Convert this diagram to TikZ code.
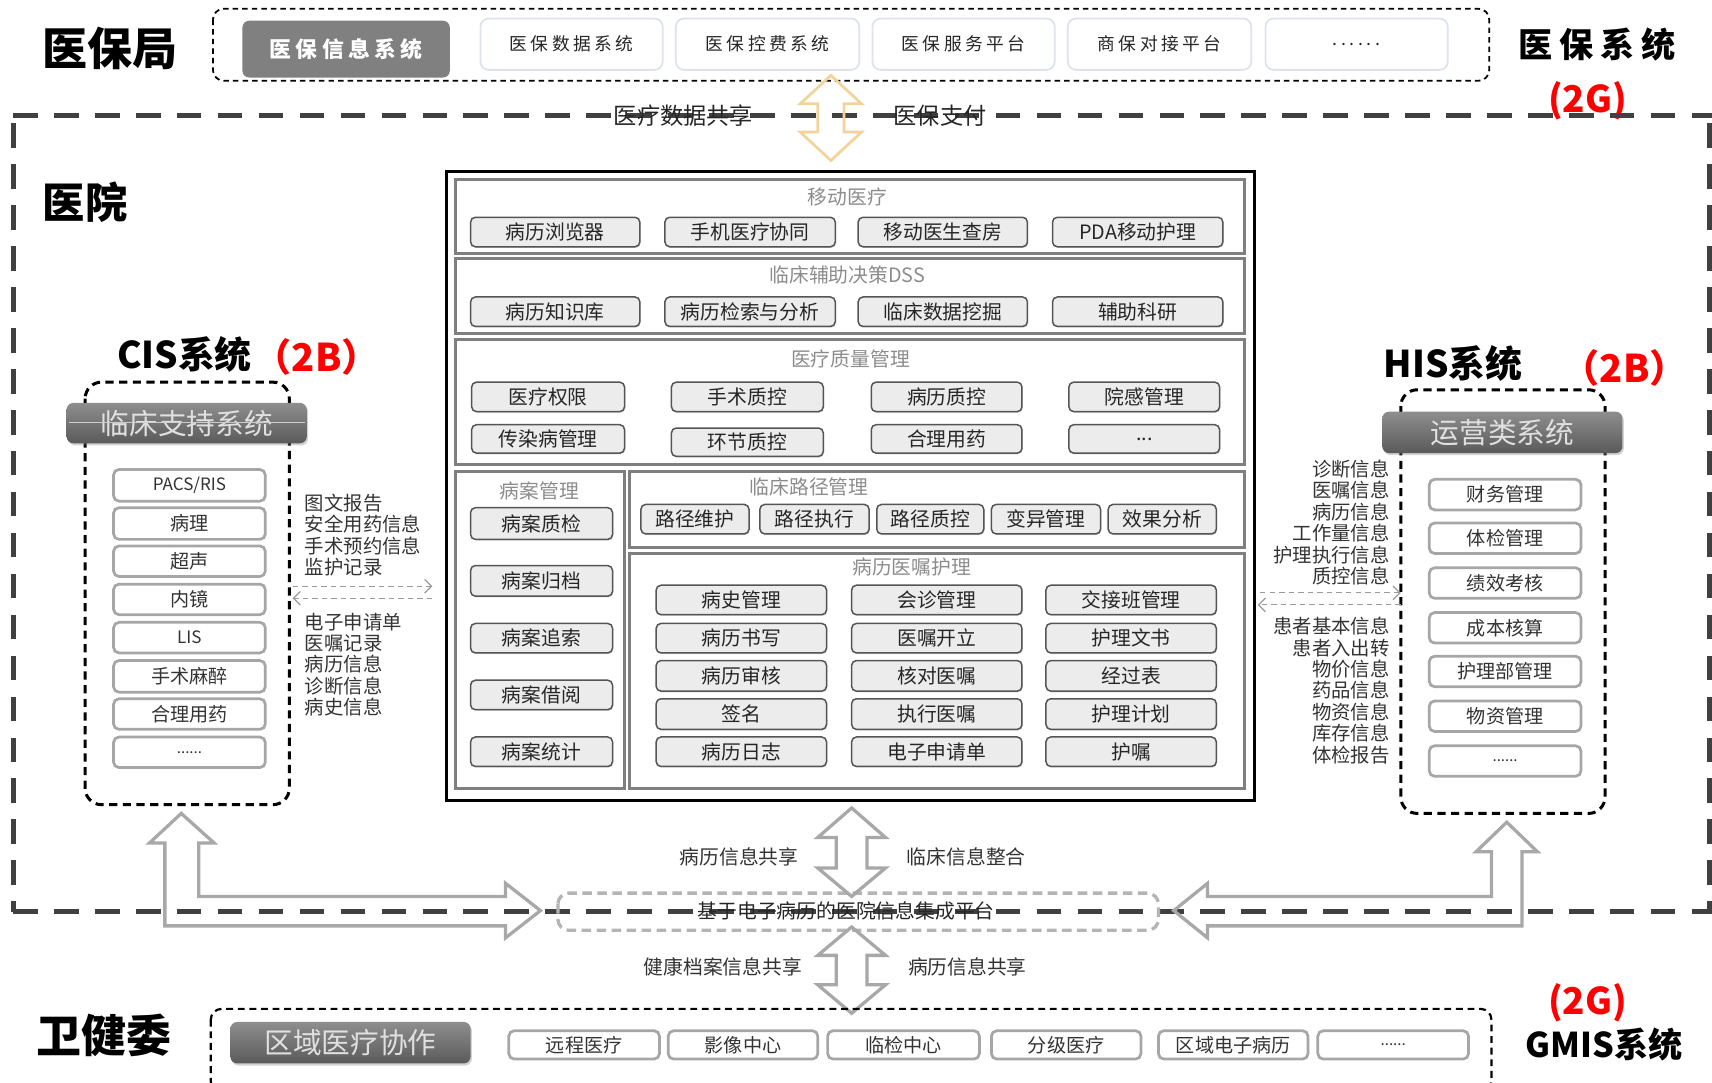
\documentclass[tikz,border=0pt]{standalone}
\usepackage{fontspec}
\setmainfont{Noto Sans CJK SC}
\newfontfamily\spacedfont{Noto Sans CJK SC}[LetterSpace=20]
\usetikzlibrary{arrows.meta,shadows}
\definecolor{hosp}{HTML}{404040}
\definecolor{btnedge}{HTML}{555555}
\definecolor{btnfill}{HTML}{ECECEC}
\definecolor{sectgray}{HTML}{7F7F7F}
\definecolor{titlegray}{HTML}{8C8C8C}
\definecolor{wedge}{HTML}{A6A6A6}
\definecolor{topedge}{HTML}{DDE2EE}
\definecolor{hdrtop}{HTML}{8E8E8E}
\definecolor{hdrbot}{HTML}{5A5A5A}
\definecolor{yellowarr}{HTML}{F2D49A}
\definecolor{blockarr}{HTML}{A8A8A8}
\definecolor{platgray}{HTML}{B4B4B4}
\definecolor{darrgray}{HTML}{9A9A9A}
\newcommand\bx[7]{\node[#1, minimum width={(#5-#3)*0.8pt}, minimum height={(#6-#4)*0.8pt}] (#2) at ({(#3+#5)/2},{(#4+#6)/2}) {#7};}
\begin{document}
\begin{tikzpicture}[x=0.8pt,y=-0.8pt,
  btn/.style={draw=btnedge, fill=btnfill, rounded corners=3.5pt, line width=1.1pt, inner sep=0pt,
    font=\fontsize{14.5}{16}\selectfont, text=black!85,
    drop shadow={shadow xshift=0.6pt, shadow yshift=-0.9pt, opacity=0.3}},
  wbox/.style={draw=wedge, fill=white, rounded corners=4pt, line width=2pt, inner sep=0pt,
    font=\fontsize{14}{16}\selectfont, text=black!80},
  topbox/.style={draw=topedge, fill=white, rounded corners=6pt, line width=1.3pt, inner sep=0pt,
    font=\spacedfont\fontsize{13}{15}\selectfont, text=black!85},
  sect/.style={draw=sectgray, line width=2.2pt},
  stitle/.style={font=\fontsize{14.5}{16}\selectfont, text=titlegray, inner sep=0pt},
  hdr/.style={rounded corners=5pt, top color=hdrtop, bottom color=hdrbot, text=white!88!black,
    font=\fontsize{21}{24}\selectfont, inner sep=0pt,
    drop shadow={shadow xshift=1pt, shadow yshift=-1.5pt, opacity=0.35}},
  bigtitle/.style={font=\bfseries\fontsize{33}{36}\selectfont, inner sep=0pt},
  systitle/.style={font=\bfseries\fontsize{27}{30}\selectfont, inner sep=0pt},
  redtag/.style={font=\bfseries\fontsize{28}{30}\selectfont, text=red, inner sep=0pt},
  gtag/.style={font=\bfseries\fontsize{27}{30}\selectfont, text=red, inner sep=0pt},
  lbl/.style={font=\fontsize{14.5}{16}\selectfont, text=black!80, inner sep=0pt},
  sidelbl/.style={font=\fontsize{14.2}{15.7}\selectfont, text=black!80, inner sep=0pt},
  hospline/.style={draw=hosp, line width=3.6pt, dash pattern=on 18pt off 12pt},
  darr/.style={draw=darrgray, line width=0.9pt, dash pattern=on 4pt off 3pt, -{Straight Barb[length=5pt,width=10pt]}},
  blk/.style={draw=blockarr, line width=2.4pt, line join=miter},
]
\useasboundingbox (0,0) rectangle (1568,991);

% ---------------- 医保局 ----------------
\node[bigtitle] (ybj) at (101,44) {医保局};
\draw[black, line width=1.3pt, dash pattern=on 4pt off 3pt, rounded corners=8pt] (195,8) rectangle (1364,74);
\node[rounded corners=5pt, fill=black!50, text=white, inner sep=0pt, minimum width={190*0.8pt}, minimum height={52*0.8pt},
  font=\spacedfont\bfseries\fontsize{16}{18}\selectfont] (yb1) at (317,45) {医保信息系统};
\bx{topbox}{yb2}{440}{17}{607}{64}{医保数据系统}
\bx{topbox}{yb3}{619}{17}{787}{64}{医保控费系统}
\bx{topbox}{yb4}{799}{17}{966}{64}{医保服务平台}
\bx{topbox}{yb5}{978}{17}{1146}{64}{商保对接平台}
\bx{topbox}{yb6}{1159}{17}{1326}{64}{......}
\node[font=\spacedfont\bfseries\fontsize{25}{28}\selectfont, inner sep=0pt] (ybxt) at (1463,41) {医保系统};
\node[gtag] (yb2g) at (1454,92) {(2G)};

% ---------------- hospital boundary ----------------
\draw[hospline] (12,106) -- (1568,106);
\draw[hospline] (12,113) -- (12,835);
\draw[hospline] (12,835) -- (1568,835);
\draw[hospline] (1566,113) -- (1566,835);
\node[bigtitle, font=\bfseries\fontsize{31}{34}\selectfont] (yy) at (78,185) {医院};

% yellow double arrow
\draw[draw=yellowarr, line width=2pt, line join=miter]
  (761,69) -- (789,95) -- (773,95) -- (773,121) -- (789,121) -- (761,147) -- (733,121) -- (749,121) -- (749,95) -- (733,95) -- cycle;
\node[font=\fontsize{17}{19}\selectfont, text=black!85, inner sep=0pt] (lshare) at (626,106) {医疗数据共享};
\node[font=\fontsize{17}{19}\selectfont, text=black!85, inner sep=0pt] (lpay) at (861,106) {医保支付};

% ---------------- central box ----------------
\draw[black, line width=2.6pt] (409,157) rectangle (1149,733);
\draw[sect] (417,164) rectangle (1140,232);
\draw[sect] (417,237) rectangle (1140,305);
\draw[sect] (417,311) rectangle (1140,425);
\draw[sect] (417,432) rectangle (572,722);
\draw[sect] (577,432) rectangle (1140,501);
\draw[sect] (577,507) rectangle (1140,722);

\node[stitle] (t1) at (776,180) {移动医疗};
\node[stitle] (t2) at (776,252) {临床辅助决策DSS};
\node[stitle] (t3) at (779,329) {医疗质量管理};
\node[stitle] (t4) at (494,450) {病案管理};
\node[stitle] (t5) at (741,446) {临床路径管理};
\node[stitle] (t6) at (835,519) {病历医嘱护理};

\bx{btn}{m1}{431}{199}{586}{226}{病历浏览器}
\bx{btn}{m2}{609}{199}{765}{226}{手机医疗协同}
\bx{btn}{m3}{786}{199}{941}{226}{移动医生查房}
\bx{btn}{m4}{964}{199}{1120}{226}{PDA移动护理}

\bx{btn}{d1}{431}{272}{586}{299}{病历知识库}
\bx{btn}{d2}{609}{272}{765}{299}{病历检索与分析}
\bx{btn}{d3}{786}{272}{941}{299}{临床数据挖掘}
\bx{btn}{d4}{964}{272}{1120}{299}{辅助科研}

\bx{btn}{q1}{432}{350}{572}{377}{医疗权限}
\bx{btn}{q2}{615}{350}{754}{377}{手术质控}
\bx{btn}{q3}{798}{350}{936}{377}{病历质控}
\bx{btn}{q4}{979}{350}{1117}{377}{院感管理}
\bx{btn}{q5}{432}{389}{572}{415}{传染病管理}
\bx{btn}{q6}{615}{392}{754}{418}{环节质控}
\bx{btn}{q7}{798}{389}{936}{415}{合理用药}
\bx{btn}{q8}{979}{389}{1117}{415}{...}

\bx{btn}{b1}{431}{465}{561}{494}{病案质检}
\bx{btn}{b2}{431}{518}{561}{546}{病案归档}
\bx{btn}{b3}{431}{571}{561}{598}{病案追索}
\bx{btn}{b4}{431}{623}{561}{650}{病案借阅}
\bx{btn}{b5}{431}{675}{561}{702}{病案统计}

\bx{btn}{p1}{587}{462}{686}{489}{路径维护}
\bx{btn}{p2}{696}{462}{796}{489}{路径执行}
\bx{btn}{p3}{803}{462}{901}{489}{路径质控}
\bx{btn}{p4}{908}{462}{1008}{489}{变异管理}
\bx{btn}{p5}{1015}{462}{1114}{489}{效果分析}

\bx{btn}{e11}{601}{536}{757}{563}{病史管理}
\bx{btn}{e12}{601}{571}{757}{598}{病历书写}
\bx{btn}{e13}{601}{605}{757}{633}{病历审核}
\bx{btn}{e14}{601}{640}{757}{668}{签名}
\bx{btn}{e15}{601}{675}{757}{702}{病历日志}
\bx{btn}{e21}{780}{536}{936}{563}{会诊管理}
\bx{btn}{e22}{780}{571}{936}{598}{医嘱开立}
\bx{btn}{e23}{780}{605}{936}{633}{核对医嘱}
\bx{btn}{e24}{780}{640}{936}{668}{执行医嘱}
\bx{btn}{e25}{780}{675}{936}{702}{电子申请单}
\bx{btn}{e31}{958}{536}{1114}{563}{交接班管理}
\bx{btn}{e32}{958}{571}{1114}{598}{护理文书}
\bx{btn}{e33}{958}{605}{1114}{633}{经过表}
\bx{btn}{e34}{958}{640}{1114}{668}{护理计划}
\bx{btn}{e35}{958}{675}{1114}{702}{护嘱}

% ---------------- CIS ----------------
\node[systitle, anchor=west] (cist) at (107,325) {CIS系统};
\node[redtag, anchor=west] (cis2b) at (232,327) {（2B）};
\draw[black, line width=2.2pt, dash pattern=on 6pt off 4pt, rounded corners=12pt] (78,350) rectangle (265,737);
\bx{hdr}{cish}{61}{369}{281}{406}{临床支持系统}
\draw[white!80!black, line width=1pt] (63,387) -- (279,387);
\bx{wbox}{c1}{104}{430}{243}{459}{\fontsize{12.5}{14}\selectfont PACS/RIS}
\bx{wbox}{c2}{104}{465}{243}{494}{病理}
\bx{wbox}{c3}{104}{500}{243}{528}{超声}
\bx{wbox}{c4}{104}{535}{243}{563}{内镜}
\bx{wbox}{c5}{104}{570}{243}{598}{\fontsize{12.5}{14}\selectfont LIS}
\bx{wbox}{c6}{104}{605}{243}{634}{手术麻醉}
\bx{wbox}{c7}{104}{640}{243}{668}{合理用药}
\bx{wbox}{c8}{104}{675}{243}{703}{\fontsize{11}{12}\selectfont ......}

\node[sidelbl, align=left, anchor=north west] (cisl1) at (279,452) {图文报告\\安全用药信息\\手术预约信息\\监护记录};
\node[sidelbl, align=left, anchor=north west] (cisl2) at (279,561) {电子申请单\\医嘱记录\\病历信息\\诊断信息\\病史信息};
\coordinate (ca1) at (268,537);
\coordinate (ca2) at (396,537);
\coordinate (ca3) at (396,548);
\coordinate (ca4) at (268,548);
\draw[darr] (ca1) -- (ca2);
\draw[darr] (ca3) -- (ca4);

% ---------------- HIS ----------------
\node[systitle, anchor=west] (hist) at (1267,333) {HIS系统};
\node[redtag, anchor=west] (his2b) at (1430,337) {（2B）};
\draw[black, line width=2.2pt, dash pattern=on 6pt off 4pt, rounded corners=12pt] (1283,357) rectangle (1470,745);
\bx{hdr}{hish}{1266}{377}{1486}{415}{运营类系统}
\bx{wbox}{h1}{1309}{439}{1448}{467}{财务管理}
\bx{wbox}{h2}{1309}{479}{1448}{507}{体检管理}
\bx{wbox}{h3}{1309}{520}{1448}{548}{绩效考核}
\bx{wbox}{h4}{1309}{561}{1448}{589}{成本核算}
\bx{wbox}{h5}{1309}{601}{1448}{629}{护理部管理}
\bx{wbox}{h6}{1309}{642}{1448}{670}{物资管理}
\bx{wbox}{h7}{1309}{683}{1448}{711}{\fontsize{11}{12}\selectfont ......}

\node[sidelbl, align=right, anchor=north east] (hisl1) at (1273,421) {诊断信息\\医嘱信息\\病历信息\\工作量信息\\护理执行信息\\质控信息};
\node[sidelbl, align=right, anchor=north east] (hisl2) at (1273,565) {患者基本信息\\患者入出转\\物价信息\\药品信息\\物资信息\\库存信息\\体检报告};
\coordinate (ha1) at (1154,543);
\coordinate (ha2) at (1283,543);
\coordinate (ha3) at (1283,554);
\coordinate (ha4) at (1152,554);
\draw[darr] (ha1) -- (ha2);
\draw[darr] (ha3) -- (ha4);

% ---------------- platform and arrows ----------------
\draw[platgray, line width=2.4pt, dash pattern=on 7pt off 4pt, rounded corners=8pt] (511,818) rectangle (1061,852);
\node[lbl, text=black!85] (plat) at (775,834) {基于电子病历的医院信息集成平台};

\draw[blk] (780,740) -- (811,767) -- (794,767) -- (794,795) -- (811,795) -- (780,821) -- (749,795) -- (766,795) -- (766,767) -- (749,767) -- cycle;
\draw[blk] (780,849) -- (811,875) -- (794,875) -- (794,902) -- (811,902) -- (780,928) -- (749,902) -- (766,902) -- (766,875) -- (749,875) -- cycle;
\node[lbl] (la1) at (677,785) {病历信息共享};
\node[lbl] (la2) at (885,785) {临床信息整合};
\node[lbl] (la3) at (662,886) {健康档案信息共享};
\node[lbl] (la4) at (886,886) {病历信息共享};

\draw[blk] (166,745) -- (196,772) -- (182,772) -- (182,821) -- (463,821) -- (463,809) -- (495,834) -- (463,859) -- (463,848) -- (151,848) -- (151,772) -- (137,772) -- cycle;
\draw[blk] (1380,753) -- (1408,780) -- (1394,780) -- (1394,848) -- (1106,848) -- (1106,859) -- (1075,834) -- (1106,809) -- (1106,821) -- (1366,821) -- (1366,780) -- (1352,780) -- cycle;

% ---------------- 卫健委 ----------------
\node[bigtitle] (wjw) at (95,948) {卫健委};
\draw[black, line width=1.6pt, dash pattern=on 5pt off 3.5pt, rounded corners=8pt] (193,924) rectangle (1366,1000);
\bx{hdr}{qy}{211}{936}{431}{974}{区域医疗协作}
\bx{wbox}{w1}{466}{944}{604}{970}{远程医疗}
\bx{wbox}{w2}{612}{944}{749}{970}{影像中心}
\bx{wbox}{w3}{758}{944}{897}{970}{临检中心}
\bx{wbox}{w4}{908}{944}{1045}{970}{分级医疗}
\bx{wbox}{w5}{1061}{944}{1198}{970}{区域电子病历}
\bx{wbox}{w6}{1207}{944}{1345}{970}{\fontsize{11}{12}\selectfont ......}
\node[gtag] (wj2g) at (1454,918) {(2G)};
\node[systitle, font=\bfseries\fontsize{25}{28}\selectfont] (gmis) at (1469,957) {GMIS系统};
\end{tikzpicture}
\end{document}
